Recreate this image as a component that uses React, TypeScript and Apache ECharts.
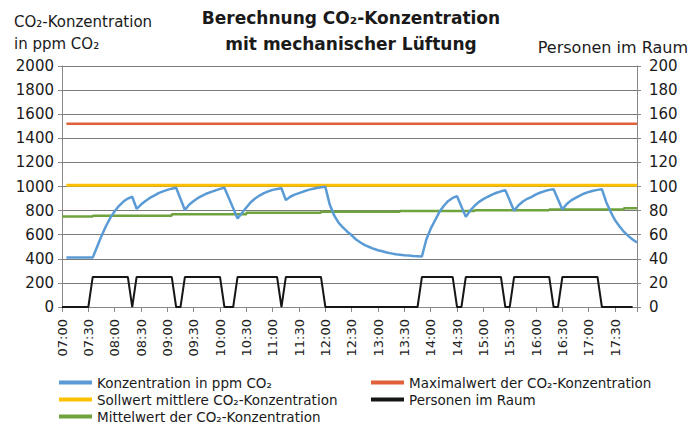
import React, { useEffect, useRef } from "react";
import * as echarts from "echarts";

// ---------- data ----------
const xTickLabels = [
  "07:00", "07:30", "08:00", "08:30", "09:00", "09:30", "10:00", "10:30",
  "11:00", "11:30", "12:00", "12:30", "13:00", "13:30", "14:00", "14:30",
  "15:00", "15:30", "16:00", "16:30", "17:00", "17:30",
];

const co2Times = [
  "07:05", "07:35", "07:40", "07:45", "07:50", "07:55", "08:00", "08:05", "08:10", "08:15", "08:20",
  "08:25", "08:30", "08:35", "08:40", "08:45", "08:50", "08:55", "09:00", "09:05", "09:10",
  "09:20", "09:25", "09:30", "09:35", "09:40", "09:45", "09:50", "09:55", "10:00", "10:05",
  "10:20", "10:25", "10:30", "10:35", "10:40", "10:45", "10:50", "10:55", "11:00", "11:05", "11:10",
  "11:15", "11:20", "11:25", "11:30", "11:35", "11:40", "11:45", "11:50", "11:55", "12:00",
  "12:05", "12:10", "12:15", "12:20", "12:25", "12:30", "12:35", "12:40", "12:45", "12:50", "12:55",
  "13:00", "13:05", "13:10", "13:15", "13:20", "13:25", "13:30", "13:35", "13:40", "13:45", "13:50",
  "13:55", "14:00", "14:05", "14:10", "14:15", "14:20", "14:25", "14:30",
  "14:40", "14:45", "14:50", "14:55", "15:00", "15:05", "15:10", "15:15", "15:20", "15:25",
  "15:35", "15:40", "15:45", "15:50", "15:55", "16:00", "16:05", "16:10", "16:15", "16:20",
  "16:30", "16:35", "16:40", "16:45", "16:50", "16:55", "17:00", "17:05", "17:10", "17:15",
  "17:20", "17:25", "17:30", "17:35", "17:40", "17:45", "17:50", "17:55",
];
const co2Values = [
  410, 410, 500, 590, 670, 740, 795, 840, 875, 900, 915,
  815, 850, 880, 905, 925, 945, 960, 972, 982, 990,
  805, 850, 880, 905, 925, 942, 955, 968, 980, 990,
  734, 780, 825, 870, 900, 925, 945, 960, 972, 980, 985,
  887, 915, 932, 945, 958, 970, 980, 988, 994, 997,
  850, 760, 700, 660, 625, 595, 560, 535, 513, 498, 483,
  471, 462, 452, 445, 438, 434, 430, 427, 424, 422, 420,
  560, 650, 720, 790, 840, 880, 905, 920,
  748, 800, 840, 872, 895, 915, 932, 948, 960, 970,
  798, 845, 875, 898, 914, 935, 950, 962, 972, 978,
  809, 855, 885, 905, 925, 942, 955, 965, 972, 978,
  870, 790, 720, 670, 625, 590, 560, 535,
];

const sollTimes = ["07:05", "17:55"];
const sollValues = [1010, 1010];

const maxTimes = ["07:05", "17:55"];
const maxValues = [1520, 1520];

const meanTimes = ["07:00", "07:35", "09:05", "10:30", "11:55", "13:25", "14:50", "16:15", "17:40", "17:55"];
const meanValues = [752, 758, 770, 782, 790, 797, 803, 810, 820, 820];

const personTimes = [
  "07:00", "07:30", "07:35", "08:15", "08:20", "08:25", "09:05", "09:10", "09:15", "09:20",
  "10:00", "10:05", "10:15", "10:20", "11:05", "11:10", "11:15", "11:55", "12:00", "13:45",
  "13:50", "14:25", "14:30", "14:35", "14:40", "15:20", "15:25", "15:30", "15:35", "16:15",
  "16:20", "16:25", "16:30", "17:10", "17:15", "17:50",
];
const personValues = [
  0, 0, 25, 25, 0, 25, 25, 0, 0, 25,
  25, 0, 0, 25, 25, 0, 25, 25, 0, 0,
  25, 25, 0, 0, 25, 25, 0, 0, 25, 25,
  0, 0, 25, 25, 0, 0,
];

const names = {
  co2: "Konzentration in ppm CO₂",
  soll: "Sollwert mittlere CO₂-Konzentration",
  mean: "Mittelwert der CO₂-Konzentration",
  max: "Maximalwert der CO₂-Konzentration",
  persons: "Personen im Raum",
};

// ---------- helpers ----------
const toMin = (t: string) => {
  const [h, m] = t.split(":").map(Number);
  return (h - 7) * 60 + m;
};
const pairs = (ts: string[], vs: number[]) => ts.map((t, i) => [toMin(t), vs[i]]);

const FONT = "DejaVu Sans";

export default function App() {
  const ref = useRef<HTMLDivElement>(null);

  useEffect(() => {
    if (!ref.current) return;
    const chart = echarts.init(ref.current, undefined, { renderer: "svg" });

    const lineSeries = (name: string, data: number[][], color: string, width: number, extra: any = {}) => ({
      name,
      type: "line",
      data,
      color,
      symbol: "none",
      showSymbol: false,
      lineStyle: { color, width },
      itemStyle: { color },
      ...extra,
    });

    chart.setOption({
      animation: false,
      textStyle: { fontFamily: FONT },
      title: {
        text: "Berechnung CO₂-Konzentration\nmit mechanischer Lüftung",
        left: 351,
        top: 5,
        textAlign: "center",
        padding: 0,
        textStyle: { fontFamily: FONT, fontSize: 17, fontWeight: "bold", lineHeight: 26, color: "#1a1a1a" },
      },
      graphic: [
        {
          type: "text",
          left: 14,
          top: 11,
          style: { text: "CO₂-Konzentration\nin ppm CO₂", font: `15px "${FONT}"`, lineHeight: 22, fill: "#1a1a1a" },
        },
        {
          type: "text",
          right: 8,
          top: 36,
          style: { text: "Personen im Raum", font: `16px "${FONT}"`, lineHeight: 22, fill: "#1a1a1a" },
        },
      ],
      grid: { left: 62, right: 59, top: 66, height: 241 },
      xAxis: {
        type: "value",
        min: 0,
        max: 655,
        interval: 30,
        axisLine: { lineStyle: { color: "#888", width: 1 } },
        axisTick: { length: 5, lineStyle: { color: "#888" } },
        splitLine: { show: false },
        axisLabel: {
          rotate: 90,
          fontSize: 13,
          color: "#222",
          margin: 12,
          fontFamily: FONT,
          formatter: (v: number) => (v % 30 === 0 && xTickLabels[v / 30] ? xTickLabels[v / 30] : ""),
        },
      },
      yAxis: [
        {
          type: "value",
          min: 0,
          max: 2000,
          interval: 200,
          axisLine: { show: true, lineStyle: { color: "#888" } },
          axisTick: { show: true, length: 4, lineStyle: { color: "#888" } },
          splitLine: { lineStyle: { color: "#7a7a7a", width: 1 } },
          axisLabel: { fontSize: 15, color: "#1a1a1a", margin: 8, fontFamily: FONT, formatter: (v: number) => String(v) },
        },
        {
          type: "value",
          min: 0,
          max: 200,
          interval: 20,
          position: "right",
          axisLine: { show: true, lineStyle: { color: "#888" } },
          axisTick: { show: true, length: 4, lineStyle: { color: "#888" } },
          splitLine: { show: false },
          axisLabel: { fontSize: 15, color: "#1a1a1a", margin: 12, fontFamily: FONT, formatter: (v: number) => String(v) },
        },
      ],
      legend: [
        {
          left: 59,
          top: 374,
          orient: "vertical",
          icon: "rect",
          itemWidth: 33,
          itemHeight: 4,
          itemGap: 0,
          padding: 0,
          selectedMode: false,
          data: [names.co2, names.soll, names.mean],
          textStyle: { fontFamily: FONT, fontSize: 13.5, lineHeight: 17, color: "#1a1a1a" },
        },
        {
          left: 371,
          top: 374,
          orient: "vertical",
          icon: "rect",
          itemWidth: 33,
          itemHeight: 4,
          itemGap: 0,
          padding: 0,
          selectedMode: false,
          data: [names.max, names.persons],
          textStyle: { fontFamily: FONT, fontSize: 13.5, lineHeight: 17, color: "#1a1a1a" },
        },
      ],
      series: [
        lineSeries(names.persons, pairs(personTimes, personValues), "#161616", 2, { yAxisIndex: 1 }),
        lineSeries(names.max, pairs(maxTimes, maxValues), "#E0603C", 2.5),
        lineSeries(names.soll, pairs(sollTimes, sollValues), "#FFC000", 3),
        lineSeries(names.mean, pairs(meanTimes, meanValues), "#6FA33E", 2.5, { step: "end" }),
        lineSeries(names.co2, pairs(co2Times, co2Values), "#5B9BD5", 2.5),
      ],
    });

    return () => chart.dispose();
  }, []);

  return <div ref={ref} style={{ position: "absolute", left: 0, top: 0, width: 696, height: 430 }} />;
}
